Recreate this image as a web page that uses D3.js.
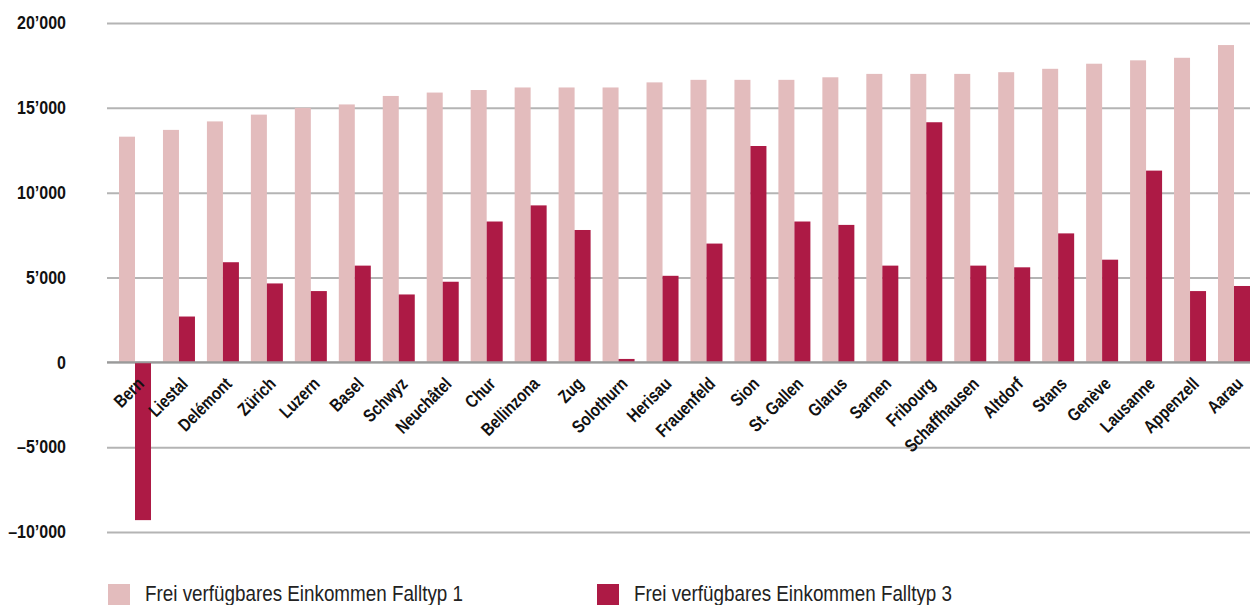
<!DOCTYPE html>
<html>
<head>
<meta charset="utf-8">
<script src="https://cdn.jsdelivr.net/npm/d3@7"></script>
<style>
    body { margin: 0; background: #fff; }
    .chart text { font-family: "Liberation Sans", Arial, sans-serif; fill: #111; }
    .axis-y text { font-size: 18px; font-weight: bold; }
    .axis-x text { font-size: 18px; font-weight: bold; }
    .legend text { font-size: 22px; fill: #222; }
</style>
</head>
<body>
<div class="chart"></div>
<script>
// Data
var cities = ["Bern", "Liestal", "Delémont", "Zürich", "Luzern", "Basel", "Schwyz", "Neuchâtel",
    "Chur", "Bellinzona", "Zug", "Solothurn", "Herisau", "Frauenfeld", "Sion", "St. Gallen",
    "Glarus", "Sarnen", "Fribourg", "Schaffhausen", "Altdorf", "Stans", "Genève", "Lausanne",
    "Appenzell", "Aarau"];
var falltyp1 = [13300, 13700, 14200, 14600, 15000, 15200, 15700, 15900,
    16050, 16200, 16200, 16200, 16500, 16650, 16650, 16650,
    16800, 17000, 17000, 17000, 17100, 17300, 17600, 17800,
    17950, 18700];
var falltyp3 = [-9300, 2700, 5900, 4650, 4200, 5700, 4000, 4750,
    8300, 9250, 7800, 200, 5100, 7000, 12750, 8300,
    8100, 5700, 14150, 5700, 5600, 7600, 6050, 11300,
    4200, 4500];
var yTicks = [-10000, -5000, 0, 5000, 10000, 15000, 20000];
var legendLabels = ["Frei verfügbares Einkommen Falltyp 1", "Frei verfügbares Einkommen Falltyp 3"];
var colors = ["#e3bcbd", "#ad1a45"];

// Set up chart
var svgWidth = 1250;
var svgHeight = 605;
// narrow the fonts horizontally, the original uses a condensed face
var narrowY = 0.89;
var narrowX = 0.82;
var narrowLegend = 0.856;

var svg = d3.select(".chart")
    .append("svg")
    .attr("width", svgWidth)
    .attr("height", svgHeight);

var xScale = d3.scaleBand()
    .domain(cities)
    .range([119, 1250])
    .paddingInner(0.272)
    .paddingOuter(0);

var xSub = d3.scaleBand()
    .domain([0, 1])
    .range([0, xScale.bandwidth()]);

var yScale = d3.scaleLinear()
    .domain([-10000, 20000])
    .range([532, 23]);

var locale = d3.formatLocale({ decimal: ".", thousands: "’", grouping: [3], currency: ["", ""], minus: "–" });
var fmt = locale.format(",d");

// Gridlines + y labels
var leftAxis = d3.axisLeft(yScale)
    .tickValues(yTicks)
    .tickFormat(fmt)
    .tickSize(-(1250 - 107));

var yAxis = svg.append("g")
    .attr("class", "axis-y")
    .attr("transform", "translate(107,0)")
    .call(leftAxis);
yAxis.select(".domain").remove();
yAxis.selectAll("line")
    .attr("stroke", "#b4b4b4")
    .attr("stroke-width", 2);
yAxis.selectAll("text")
    .attr("x", -41 / narrowY)
    .attr("transform", "scale(" + narrowY + ",1)");

// Bars
var groups = svg.append("g")
    .selectAll("g")
    .data(cities)
    .enter()
    .append("g")
    .attr("transform", function (d) { return "translate(" + xScale(d) + ",0)"; });

groups.append("rect")
    .attr("x", xSub(0))
    .attr("width", xSub.bandwidth())
    .attr("y", function (d, i) { return yScale(Math.max(0, falltyp1[i])); })
    .attr("height", function (d, i) { return Math.abs(yScale(falltyp1[i]) - yScale(0)); })
    .attr("fill", colors[0]);

groups.append("rect")
    .attr("x", xSub(1))
    .attr("width", xSub.bandwidth())
    .attr("y", function (d, i) { return yScale(Math.max(0, falltyp3[i])); })
    .attr("height", function (d, i) { return Math.abs(yScale(falltyp3[i]) - yScale(0)); })
    .attr("fill", colors[1]);

// Zero line
svg.append("line")
    .attr("x1", 107)
    .attr("x2", 1250)
    .attr("y1", yScale(0))
    .attr("y2", yScale(0))
    .attr("stroke", "#9a9a9a")
    .attr("stroke-width", 2);

// x labels
var bottomAxis = d3.axisBottom(xScale).tickSize(0);
var xAxis = svg.append("g")
    .attr("class", "axis-x")
    .attr("transform", "translate(0," + yScale(0) + ")")
    .call(bottomAxis);
xAxis.select(".domain").remove();
xAxis.selectAll("text")
    .attr("text-anchor", "end")
    .attr("y", 0)
    .attr("dy", 0)
    .attr("transform", "translate(10," + (385 - yScale(0)) + ") rotate(-45) scale(" + narrowX + ",1)");

// Legend
var legend = svg.append("g").attr("class", "legend");
var legendX = [108, 597];
legendLabels.forEach(function (label, i) {
    legend.append("rect")
        .attr("x", legendX[i])
        .attr("y", 584)
        .attr("width", 22)
        .attr("height", 22)
        .attr("fill", colors[i]);
    legend.append("text")
        .attr("transform", "translate(" + (legendX[i] + 37) + ",601) scale(" + narrowLegend + ",1)")
        .text(label);
});
</script>
</body>
</html>
